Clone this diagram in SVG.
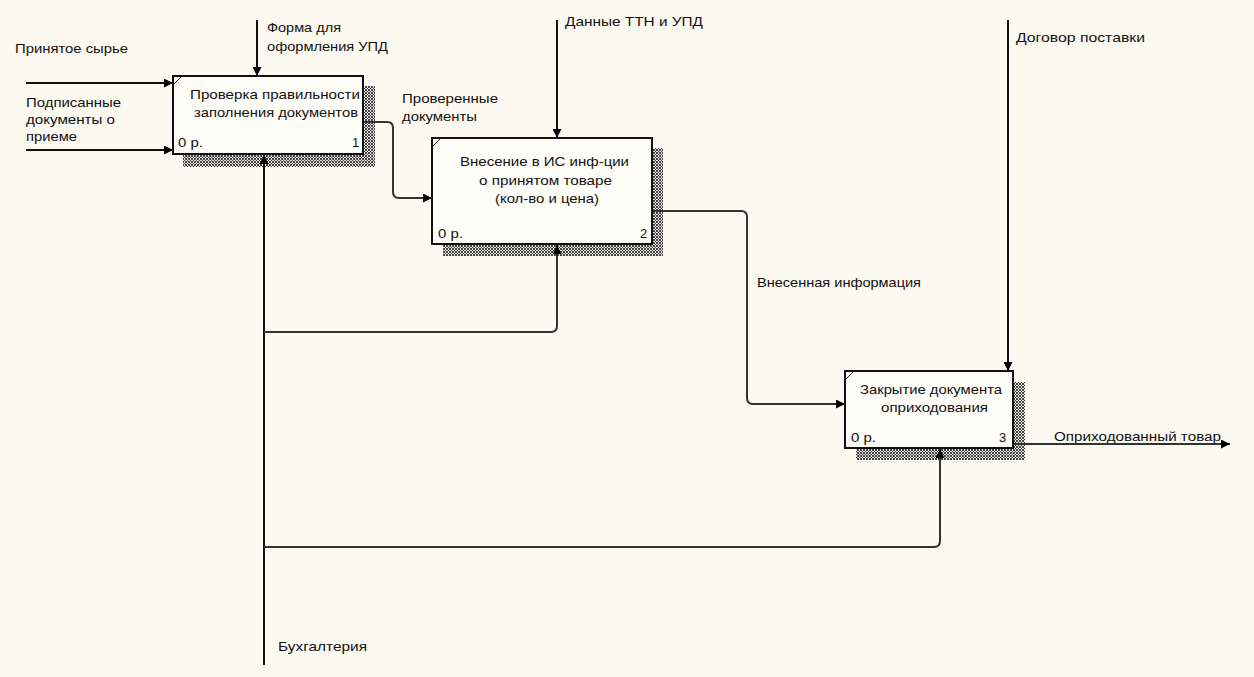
<svg xmlns="http://www.w3.org/2000/svg" width="1254" height="677" viewBox="0 0 1254 677">
<style>
text{font-family:"Liberation Sans",Arial,sans-serif;font-size:13px;fill:#111}
.box{fill:#fffdf8;stroke:#111;stroke-width:2}
.sh{fill:url(#hatch)}
.notch{stroke:#333;stroke-width:1;fill:none}
.ln{fill:none;stroke:#111;stroke-width:2}
.out{fill:none;stroke:#333;stroke-width:2}
</style>
<defs>
<pattern id="hatch" width="3" height="3" patternUnits="userSpaceOnUse">
<rect width="3" height="3" fill="#e8e6e0"/>
<path d="M0,0 L3,3 M3,0 L0,3" stroke="#333" stroke-width="0.9"/>
</pattern>
<marker id="ar" viewBox="0 0 10 10" refX="10" refY="5" markerWidth="11" markerHeight="9" markerUnits="userSpaceOnUse" orient="auto">
<path d="M0,0 L10,5 L0,10 z" fill="#000"/>
</marker>
</defs>
<rect width="1254" height="677" fill="#fcf9f0"/>

<g id="labels">
<text x="15" y="53" textLength="113" lengthAdjust="spacingAndGlyphs">Принятое сырье</text>
<text x="26" y="107" textLength="95" lengthAdjust="spacingAndGlyphs">Подписанные</text>
<text x="26" y="124" textLength="89" lengthAdjust="spacingAndGlyphs">документы о</text>
<text x="26" y="141" textLength="51" lengthAdjust="spacingAndGlyphs">приеме</text>
<text x="267" y="32" textLength="74" lengthAdjust="spacingAndGlyphs">Форма для</text>
<text x="267" y="51" textLength="121" lengthAdjust="spacingAndGlyphs">оформления УПД</text>
<text x="402" y="103" textLength="96" lengthAdjust="spacingAndGlyphs">Проверенные</text>
<text x="402" y="121" textLength="75" lengthAdjust="spacingAndGlyphs">документы</text>
<text x="565" y="26" textLength="138" lengthAdjust="spacingAndGlyphs">Данные ТТН и УПД</text>
<text x="1016" y="42" textLength="129" lengthAdjust="spacingAndGlyphs">Договор поставки</text>
<text x="757" y="287" textLength="164" lengthAdjust="spacingAndGlyphs">Внесенная информация</text>
<text x="1054" y="441" textLength="167" lengthAdjust="spacingAndGlyphs">Оприходованный товар</text>
<text x="278" y="651" textLength="89" lengthAdjust="spacingAndGlyphs">Бухгалтерия</text>
</g>

<g id="node1">
<rect class="sh" x="363" y="86" width="12" height="81"/>
<rect class="sh" x="183" y="154" width="192" height="13"/>
<rect class="box" x="173" y="76" width="190" height="78"/>
<path class="notch" d="M174,84 L181,77"/>
<text x="190" y="99" textLength="170" lengthAdjust="spacingAndGlyphs">Проверка правильности</text>
<text x="194" y="117" textLength="164" lengthAdjust="spacingAndGlyphs">заполнения документов</text>
<text x="178" y="147" textLength="25" lengthAdjust="spacingAndGlyphs">0 р.</text>
<text x="352" y="147">1</text>
</g>

<g id="node2">
<rect class="sh" x="652" y="148" width="11" height="108"/>
<rect class="sh" x="443" y="244" width="220" height="12"/>
<rect class="box" x="432" y="138" width="220" height="106"/>
<path class="notch" d="M433,146 L440,139"/>
<text x="460" y="166" textLength="169" lengthAdjust="spacingAndGlyphs">Внесение в ИС инф-ции</text>
<text x="479" y="185" textLength="133" lengthAdjust="spacingAndGlyphs">о принятом товаре</text>
<text x="495" y="203" textLength="104" lengthAdjust="spacingAndGlyphs">(кол-во и цена)</text>
<text x="438" y="238" textLength="25" lengthAdjust="spacingAndGlyphs">0 р.</text>
<text x="640" y="238">2</text>
</g>

<g id="node3">
<rect class="sh" x="1013" y="382" width="12" height="78"/>
<rect class="sh" x="856" y="448" width="169" height="12"/>
<rect class="box" x="845" y="371" width="168" height="77"/>
<path class="notch" d="M846,379 L853,372"/>
<text x="860" y="394" textLength="142" lengthAdjust="spacingAndGlyphs">Закрытие документа</text>
<text x="881" y="412" textLength="107" lengthAdjust="spacingAndGlyphs">оприходования</text>
<text x="851" y="442" textLength="25" lengthAdjust="spacingAndGlyphs">0 р.</text>
<text x="999" y="442">3</text>
</g>

<g id="connectors">
<path class="ln" d="M26,83 H173" marker-end="url(#ar)"/>
<path class="ln" d="M26,150 H173" marker-end="url(#ar)"/>
<path class="ln" d="M257,20 V76" marker-end="url(#ar)"/>
<path class="out" d="M364,122 H387 Q393,122 393,128 V192 Q393,198 399,198 H432" marker-end="url(#ar)"/>
<path class="ln" d="M557,20 V138" marker-end="url(#ar)"/>
<path class="out" d="M653,211 H741 Q747,211 747,217 V398 Q747,404 753,404 H845" marker-end="url(#ar)"/>
<path class="ln" d="M1008,20 V371" marker-end="url(#ar)"/>
<path class="out" d="M1014,444 H1230" marker-end="url(#ar)"/>
<path class="ln" d="M264,665 V155" marker-end="url(#ar)"/>
<path class="out" d="M264,332 H551 Q557,332 557,326 V245" marker-end="url(#ar)"/>
<path class="out" d="M264,547 H934 Q940,547 940,541 V449" marker-end="url(#ar)"/>
</g>
</svg>
